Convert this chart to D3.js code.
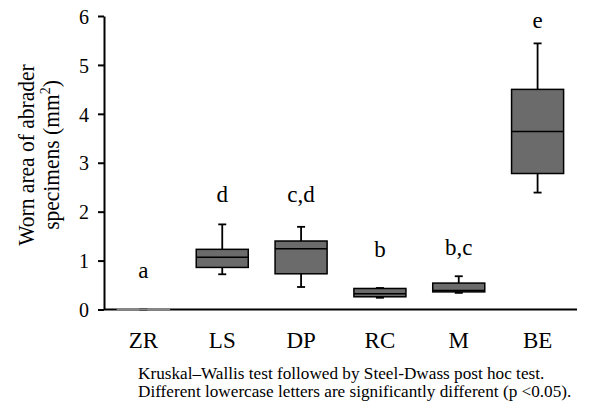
<!DOCTYPE html>
<html>
<head>
<meta charset="utf-8">
<script src="https://cdn.jsdelivr.net/npm/d3@7"></script>
<style>
  html, body { margin: 0; padding: 0; background: #fff; }
  svg { display: block; }
  svg text { font-family: "Liberation Serif", "Times New Roman", serif; fill: #000; }
</style>
</head>
<body>
<svg id="chart" width="592" height="403"></svg>
<script>
// Groups of abrader specimens
const categories = ["ZR", "LS", "DP", "RC", "M", "BE"];
// Five-number summaries (mm²): whisker low, Q1, median, Q3, whisker high
const whiskerLow  = [0.000, 0.72, 0.46, 0.24, 0.34, 2.39];
const q1          = [0.003, 0.86, 0.73, 0.26, 0.36, 2.78];
const median      = [0.005, 1.07, 1.24, 0.32, 0.39, 3.64];
const q3          = [0.008, 1.23, 1.40, 0.43, 0.54, 4.50];
const whiskerHigh = [0.010, 1.74, 1.69, 0.44, 0.68, 5.44];
// Post hoc grouping letters and the level (mm²) they are written at
const groupLetters = ["a", "d", "c,d", "b", "b,c", "e"];
const letterLevel  = [0.64, 2.20, 2.20, 1.08, 1.11, 5.75];
const yTicks = [0, 1, 2, 3, 4, 5, 6];

const svg = d3.select("#chart");
const plotLeft = 104, plotRight = 577, plotTop = 16, plotBottom = 309.5;

const x = d3.scaleBand().domain(categories).range([plotLeft, plotRight]).paddingInner(0.34).paddingOuter(0.17);
const y = d3.scaleLinear().domain([0, 6]).range([plotBottom, plotTop]);

const rows = categories.map((c, i) => ({
  cat: c, lo: whiskerLow[i], q1: q1[i], med: median[i], q3: q3[i], hi: whiskerHigh[i],
  letter: groupLetters[i], level: letterLevel[i]
}));

// Y axis
const yAxis = svg.append("g")
  .attr("transform", `translate(${plotLeft},0)`)
  .call(d3.axisLeft(y).tickValues(yTicks).tickFormat(d3.format("d")).tickSize(6).tickSizeOuter(0).tickPadding(9));
yAxis.attr("font-family", null);
yAxis.select(".domain").attr("stroke", "#000").attr("stroke-width", 2);
yAxis.selectAll(".tick line").attr("stroke", "#000").attr("stroke-width", 2);
yAxis.selectAll(".tick text").attr("font-size", 20).attr("dy", "0.36em");

// X axis baseline
svg.append("line")
  .attr("x1", plotLeft).attr("x2", plotRight)
  .attr("y1", y(0)).attr("y2", y(0))
  .attr("stroke", "#000").attr("stroke-width", 2);

// Category labels
svg.append("g").selectAll("text").data(categories).join("text")
  .attr("x", d => x(d) + x.bandwidth() / 2)
  .attr("y", 347.5)
  .attr("text-anchor", "middle")
  .attr("font-size", 23)
  .text(d => d);

// Boxes
const bw = x.bandwidth();
const capW = 8;
const boxes = svg.append("g").selectAll("g").data(rows).join("g")
  .attr("transform", d => `translate(${x(d.cat) + bw / 2},0)`);

boxes.append("line")
  .attr("x1", 0).attr("x2", 0)
  .attr("y1", d => y(d.hi)).attr("y2", d => y(d.q3))
  .attr("stroke", "#000").attr("stroke-width", 1.8);
boxes.append("line")
  .attr("x1", 0).attr("x2", 0)
  .attr("y1", d => y(d.q1)).attr("y2", d => y(d.lo))
  .attr("stroke", "#000").attr("stroke-width", 1.8);
boxes.append("line")
  .attr("x1", -capW / 2).attr("x2", capW / 2)
  .attr("y1", d => y(d.hi)).attr("y2", d => y(d.hi))
  .attr("stroke", "#000").attr("stroke-width", 1.8);
boxes.append("line")
  .attr("x1", -capW / 2).attr("x2", capW / 2)
  .attr("y1", d => y(d.lo)).attr("y2", d => y(d.lo))
  .attr("stroke", "#000").attr("stroke-width", 1.8);
boxes.append("rect")
  .attr("x", -bw / 2).attr("width", bw)
  .attr("y", d => y(d.q3))
  .attr("height", d => Math.max(0, y(d.q1) - y(d.q3)))
  .attr("fill", "#6b6b6b")
  .attr("stroke", d => d.hi - d.lo < 0.05 ? "#888" : "#000")
  .attr("stroke-width", 1.5);
boxes.filter(d => d.hi - d.lo >= 0.05).append("line")
  .attr("x1", -bw / 2).attr("x2", bw / 2)
  .attr("y1", d => y(d.med)).attr("y2", d => y(d.med))
  .attr("stroke", "#000").attr("stroke-width", 1.5);

// Grouping letters above each box
svg.append("g").selectAll("text").data(rows).join("text")
  .attr("x", d => x(d.cat) + bw / 2)
  .attr("y", d => y(d.level))
  .attr("text-anchor", "middle")
  .attr("font-size", 23)
  .text(d => d.letter);

// Y axis title (two lines, rotated)
const yt = svg.append("g").attr("font-size", 21.5).attr("text-anchor", "middle");
yt.append("text")
  .attr("transform", "translate(34,155) scale(1.1,1) rotate(-90)")
  .text("Worn area of abrader");
const yt2 = yt.append("text")
  .attr("transform", "translate(59,155) scale(1.1,1) rotate(-90)");
yt2.append("tspan").text("specimens (mm");
yt2.append("tspan").attr("font-size", 14).attr("dy", -8).text("2");
yt2.append("tspan").attr("dy", 8).text(")");

// Caption
const cap = svg.append("g").attr("font-size", 17.2);
cap.append("text").attr("x", 138).attr("y", 379)
  .text("Kruskal\u2013Wallis test followed by Steel-Dwass post hoc test.");
cap.append("text").attr("x", 138).attr("y", 397)
  .text("Different lowercase letters are significantly different (p <0.05).");
</script>
</body>
</html>
